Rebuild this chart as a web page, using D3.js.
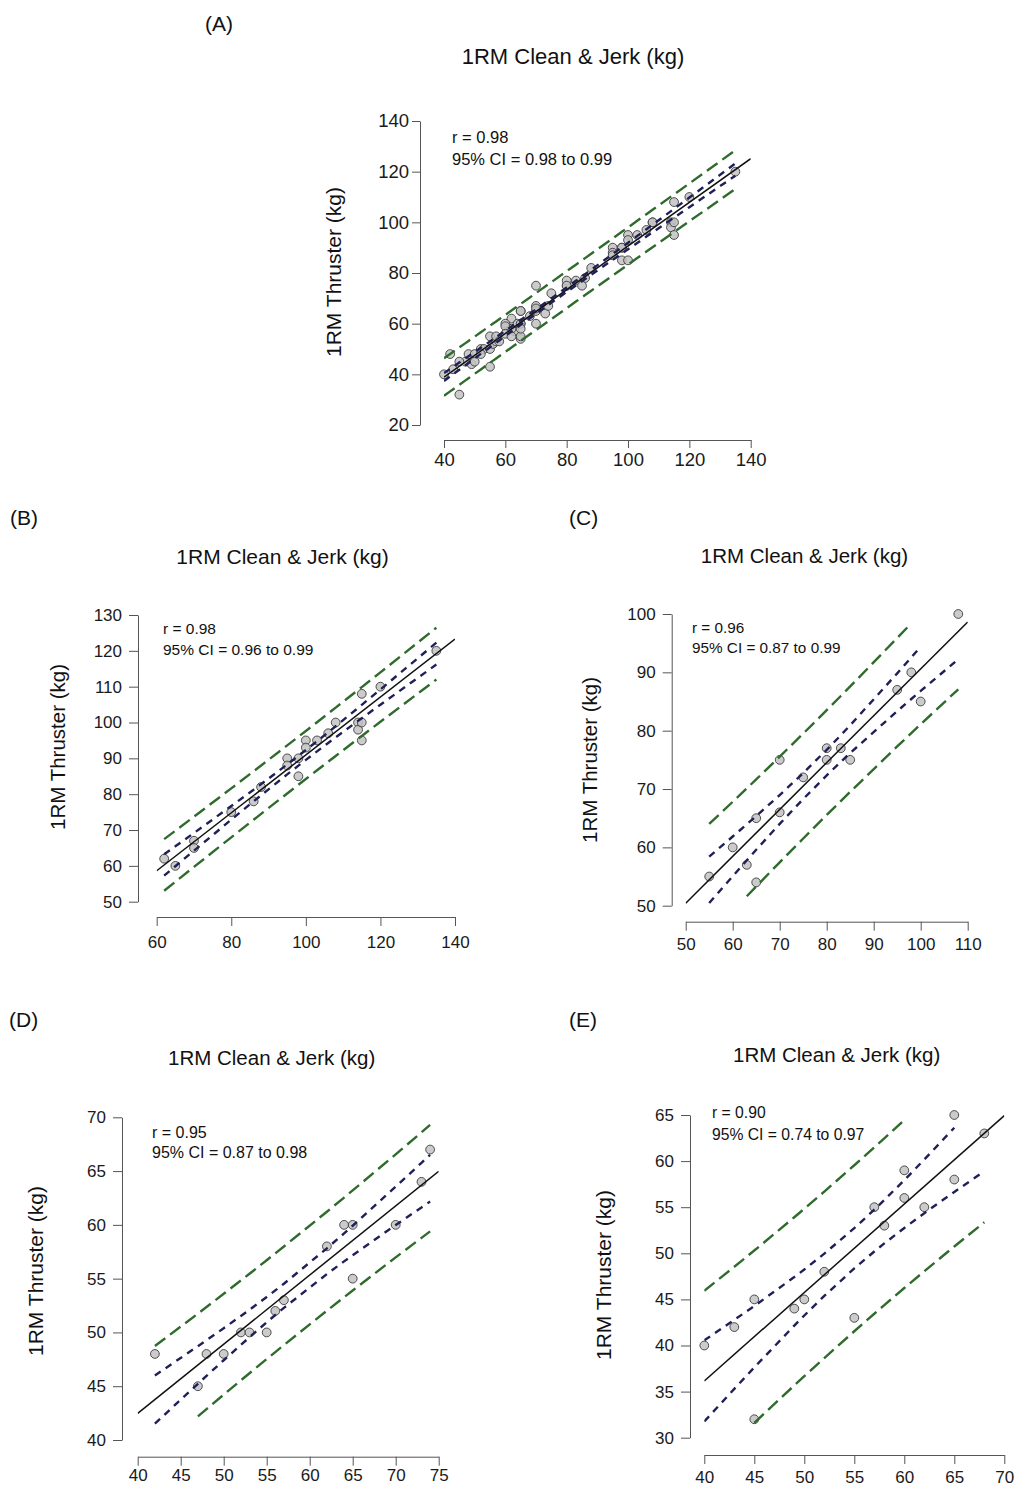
<!DOCTYPE html>
<html><head><meta charset="utf-8">
<script src="https://cdn.jsdelivr.net/npm/d3@7"></script>
<style>body{margin:0;background:#fff}svg{display:block}</style>
</head><body>
<svg id="chart" width="1017" height="1490"></svg>
<script>
// ---------- text ----------
const xLabel = "1RM Clean & Jerk (kg)";
const yLabel = "1RM Thruster (kg)";
const panelTags = ["(A)", "(B)", "(C)", "(D)", "(E)"];
const rTexts = ["r = 0.98", "r = 0.98", "r = 0.96", "r = 0.95", "r = 0.90"];
const ciTexts = ["95% CI = 0.98 to 0.99", "95% CI = 0.96 to 0.99", "95% CI = 0.87 to 0.99", "95% CI = 0.87 to 0.98", "95% CI = 0.74 to 0.97"];

// ---------- data ----------
const bX = [62, 65, 70, 70, 80, 86, 88, 95, 95, 98, 98, 100, 100, 103, 106, 108, 114, 114, 115, 115, 115, 120, 135];
const bY = [62, 60, 67, 65, 75, 78, 82, 90, 88, 90, 85, 95, 93, 95, 97, 100, 100, 98, 108, 100, 95, 110, 120];
const cX = [55, 60, 63, 65, 65, 70, 70, 75, 80, 80, 83, 85, 95, 98, 100, 108];
const cY = [55, 60, 57, 65, 54, 75, 66, 72, 77, 75, 77, 75, 87, 90, 85, 100];
const dX = [42, 47, 48, 50, 52, 53, 55, 56, 57, 62, 64, 65, 65, 70, 73, 74];
const dY = [48, 45, 48, 48, 50, 50, 50, 52, 53, 58, 60, 60, 55, 60, 64, 67];
const eX = [40, 43, 45, 45, 49, 50, 52, 55, 57, 58, 60, 60, 62, 65, 65, 68];
const eY = [40, 42, 45, 32, 44, 45, 48, 43, 55, 53, 59, 56, 55, 65, 58, 63];
// panel A pools all participants
const aX = [].concat(bX, cX, dX, eX);
const aY = [].concat(bY, cY, dY, eY);

// ---------- tick values ----------
const aTicksX = [40, 60, 80, 100, 120, 140];
const aTicksY = [20, 40, 60, 80, 100, 120, 140];
const bTicksX = [60, 80, 100, 120, 140];
const bTicksY = [50, 60, 70, 80, 90, 100, 110, 120, 130];
const cTicksX = [50, 60, 70, 80, 90, 100, 110];
const cTicksY = [50, 60, 70, 80, 90, 100];
const dTicksX = [40, 45, 50, 55, 60, 65, 70, 75];
const dTicksY = [40, 45, 50, 55, 60, 65, 70];
const eTicksX = [40, 45, 50, 55, 60, 65, 70];
const eTicksY = [30, 35, 40, 45, 50, 55, 60, 65];

const datasets = [[aX, aY], [bX, bY], [cX, cY], [dX, dY], [eX, eY]];
const ticks = [[aTicksX, aTicksY], [bTicksX, bTicksY], [cTicksX, cTicksY], [dTicksX, dTicksY], [eTicksX, eTicksY]];

// ---------- layout (pixels) ----------
const layout = [
  { xr: [444, 750.7], yr: [425, 121], yAxisX: 420, xAxisY: 440, tick: 8, yPad: 3, xBase: 466, fs: 18.5,
    ann: [452, 143, 165, 16.5], ylab: [341, 272, 21], title: [573, 64, 22], tag: [205, 31] },
  { xr: [156.7, 455], yr: [901.7, 615], yAxisX: 138, xAxisY: 917, tick: 9, yPad: 7, xBase: 948, fs: 17,
    ann: [163, 634, 655, 15.5], ylab: [65, 747, 20.5], title: [282.5, 564, 21], tag: [10, 525] },
  { xr: [685.7, 967.7], yr: [905.7, 614], yAxisX: 671.7, xAxisY: 921.7, tick: 9, yPad: 7, xBase: 950, fs: 17,
    ann: [692, 633, 653, 15.3], ylab: [597, 760, 20.5], title: [804.5, 563, 20.5], tag: [569, 525] },
  { xr: [137.7, 438.7], yr: [1440, 1117.3], yAxisX: 122, xAxisY: 1456.7, tick: 9, yPad: 7, xBase: 1481, fs: 17,
    ann: [152, 1138, 1158, 16], ylab: [43, 1271, 21], title: [271.7, 1065, 20.5], tag: [9, 1027] },
  { xr: [704.3, 1004.3], yr: [1437.7, 1115], yAxisX: 690, xAxisY: 1455, tick: 9, yPad: 7, xBase: 1483, fs: 17,
    ann: [712, 1118, 1140, 15.7], ylab: [611, 1275, 21], title: [836.7, 1062, 20.5], tag: [569, 1027] }
];

const FONT = "'Liberation Sans', Arial, Helvetica, sans-serif";
const GREEN = "#2f6b2c", NAVY = "#1f2058";

const svg = d3.select("#chart");
svg.append("rect").attr("width", 1017).attr("height", 1490).attr("fill", "#fff");

// t quantile (0.975) via Cornish-Fisher expansion
function t975(df) {
  const z = 1.959964;
  const z3 = z ** 3, z5 = z ** 5, z7 = z ** 7, z9 = z ** 9;
  return z + (z3 + z) / (4 * df)
    + (5 * z5 + 16 * z3 + 3 * z) / (96 * df * df)
    + (3 * z7 + 19 * z5 + 17 * z3 - 15 * z) / (384 * df ** 3)
    + (79 * z9 + 776 * z7 + 1482 * z5 - 1920 * z3 - 945 * z) / (92160 * df ** 4);
}

function fit(xs, ys) {
  const n = xs.length;
  const mx = d3.mean(xs), my = d3.mean(ys);
  let sxx = 0, sxy = 0;
  for (let i = 0; i < n; i++) { sxx += (xs[i] - mx) ** 2; sxy += (xs[i] - mx) * (ys[i] - my); }
  const b = sxy / sxx, a = my - b * mx;
  let sse = 0;
  for (let i = 0; i < n; i++) sse += (ys[i] - a - b * xs[i]) ** 2;
  const s = Math.sqrt(sse / (n - 2));
  return { n, mx, sxx, a, b, s, t: t975(n - 2) };
}

layout.forEach((L, i) => {
  const [xs, ys] = datasets[i];
  const [tx, ty] = ticks[i];
  const xd = d3.extent(tx), yd = d3.extent(ty);
  const x = d3.scaleLinear().domain(xd).range(L.xr);
  const y = d3.scaleLinear().domain(yd).range(L.yr);
  const g = svg.append("g").attr("font-family", FONT);

  // panel tag and title
  g.append("text").attr("x", L.tag[0]).attr("y", L.tag[1]).attr("font-size", 21).attr("fill", "#111").text(panelTags[i]);
  g.append("text").attr("x", L.title[0]).attr("y", L.title[1]).attr("font-size", L.title[2])
    .attr("text-anchor", "middle").attr("fill", "#111").text(xLabel);
  g.append("text").attr("transform", `translate(${L.ylab[0]},${L.ylab[1]}) rotate(-90)`)
    .attr("font-size", L.ylab[2]).attr("text-anchor", "middle").attr("fill", "#111").text(yLabel);

  // axes (R style, detached)
  const ya = g.append("g").attr("transform", `translate(${L.yAxisX},0)`)
    .call(d3.axisLeft(y).tickValues(ty).tickSize(L.tick).tickSizeOuter(0).tickPadding(L.yPad).tickFormat(d3.format("d")));
  const xPad = L.xBase - L.xAxisY - L.tick - 0.71 * L.fs;
  const xa = g.append("g").attr("transform", `translate(0,${L.xAxisY})`)
    .call(d3.axisBottom(x).tickValues(tx).tickSize(L.tick).tickSizeOuter(0).tickPadding(xPad).tickFormat(d3.format("d")));
  [ya, xa].forEach(ax => {
    ax.selectAll("path.domain").attr("stroke", "#555").attr("stroke-width", 1);
    ax.selectAll(".tick line").attr("stroke", "#555").attr("stroke-width", 1);
    ax.selectAll(".tick text").attr("font-size", L.fs).attr("font-family", FONT).attr("fill", "#1a1a1a");
  });

  // annotation
  g.append("text").attr("x", L.ann[0]).attr("y", L.ann[1]).attr("font-size", L.ann[3]).attr("fill", "#111").text(rTexts[i]);
  g.append("text").attr("x", L.ann[0]).attr("y", L.ann[2]).attr("font-size", L.ann[3]).attr("fill", "#111").text(ciTexts[i]);

  // clip lines to plot region
  const cid = "clip" + i;
  svg.append("clipPath").attr("id", cid).append("rect")
    .attr("x", x(xd[0])).attr("y", y(yd[1])).attr("width", x(xd[1]) - x(xd[0])).attr("height", y(yd[0]) - y(yd[1]));

  // points (under the bands so dashes show through)
  g.append("g").selectAll("circle").data(xs.map((v, j) => [v, ys[j]])).enter().append("circle")
    .attr("cx", d => x(d[0])).attr("cy", d => y(d[1])).attr("r", 4.4)
    .attr("fill", "#c2c2c2").attr("fill-opacity", 0.85).attr("stroke", "#3c3c3c").attr("stroke-width", 0.9);

  const pg = g.append("g").attr("clip-path", `url(#${cid})`);
  const F = fit(xs, ys);
  const ux = Array.from(new Set(xs)).sort((p, q) => p - q);
  const line = d3.line().x(d => x(d[0])).y(d => y(d[1]));
  function band(k, sign) {
    return ux.map(v => {
      const se = F.s * Math.sqrt(k + 1 / F.n + (v - F.mx) ** 2 / F.sxx);
      return [v, F.a + F.b * v + sign * F.t * se];
    }).filter(d => d[1] >= yd[0] && d[1] <= yd[1]);
  }

  // prediction interval (green) and confidence interval (navy)
  [-1, 1].forEach(sg => {
    pg.append("path").attr("d", line(band(1, sg))).attr("fill", "none")
      .attr("stroke", GREEN).attr("stroke-width", 2.4).attr("stroke-dasharray", "13,6");
    pg.append("path").attr("d", line(band(0, sg))).attr("fill", "none")
      .attr("stroke", NAVY).attr("stroke-width", 2.4).attr("stroke-dasharray", "7,6");
  });
  // regression line
  pg.append("path").attr("d", line([[xd[0], F.a + F.b * xd[0]], [xd[1], F.a + F.b * xd[1]]]))
    .attr("fill", "none").attr("stroke", "#111").attr("stroke-width", 1.5);
});
</script>
</body></html>
